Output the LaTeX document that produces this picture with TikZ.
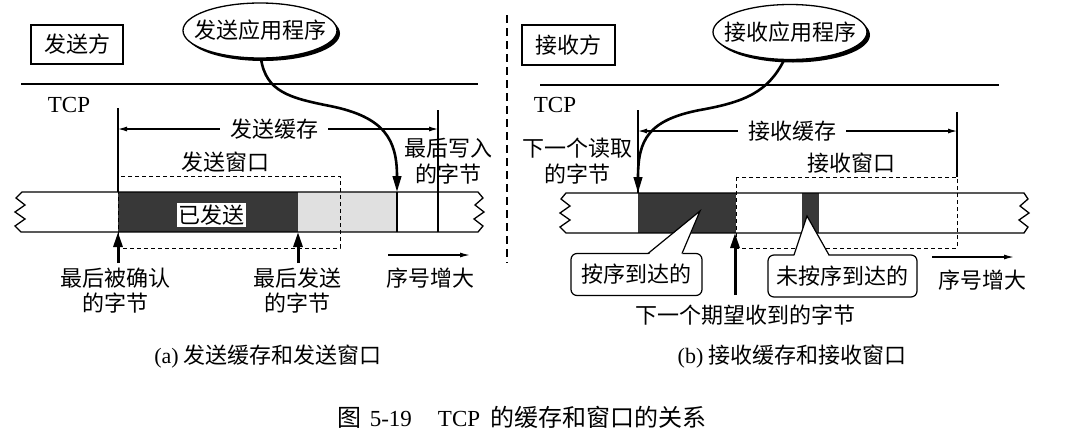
\documentclass[tikz,border=0pt]{standalone}
\usepackage{fontspec}
\setmainfont{Noto Sans CJK SC}
\newfontfamily\lat{Liberation Serif}
\usetikzlibrary{arrows.meta,shapes.geometric}
\begin{document}
\begin{tikzpicture}[x=1pt,y=-1pt,
  every node/.style={font=\fontsize{22}{26}\selectfont, inner sep=0pt},
  rule/.style={line width=1.3pt},
  bigarrow/.style={line width=3pt, -{Triangle[length=15pt,width=9pt]}},
  curvearrow/.style={line width=2.6pt, -{Triangle[length=16pt,width=8.5pt]}},
  dimline/.style={line width=1.1pt, {Latex[length=9pt,width=5pt]}-{Latex[length=9pt,width=5pt]}},
  seqarrow/.style={line width=1.3pt, -{Latex[length=10pt,width=5pt]}},
  win/.style={line width=1pt, dash pattern=on 4pt off 3pt},
  sidebox/.style={draw, line width=1.8pt, minimum width=92pt, minimum height=39pt},
  appell/.style={draw, ellipse, fill=white, line width=1.3pt, minimum width=154pt, minimum height=55pt},
  appshadow/.style={ellipse, fill=black, minimum width=154pt, minimum height=55pt},
  callout/.style={draw, rounded corners=6pt, fill=white, line width=1.2pt, minimum height=42pt},
  darkfill/.style={fill=black!78},
  lightfill/.style={fill=black!12},
  twoline/.style={align=center},
  latin/.style={font=\lat\fontsize{23}{27}\selectfont},
  buflabel/.style={fill=white, inner xsep=10pt, inner ysep=2pt},
]
\useasboundingbox (0,0) rectangle (1079,437);

% ================= left: sender =================
\node[sidebox] (sndside) at (77,44.5) {发送方};
\node[appshadow] (sndshadow) at (263,33.5) {};
\node[appell] (sndapp) at (260,30.5) {};
\node (sndapptext) at (sndapp) {发送应用程序};
\draw[rule] (21,84) -- (478,84);
\node[latin] (tcpL) at (69,105) {TCP};

% bar fills
\fill[darkfill] (118,192) rectangle (298,232);
\fill[lightfill] (298,192) rectangle (397,232);
% bar outline with broken ends
\draw[rule] (478,192) -- (22,192) -- (16,198) -- (25,205) -- (15,212) -- (25,219) -- (15,226) -- (21,232)
  -- (478,232) -- (483,226) -- (474,219) -- (484,212) -- (475,205) -- (483,198) -- cycle;
\draw[rule] (397,192) -- (397,232);

% buffer dimension
\coordinate (sbL) at (118,129);
\coordinate (sbR) at (438,129);
\draw[rule] (118,108) -- (118,192);
\draw[rule] (438,110) -- (438,232);
\draw[dimline] (sbL) -- (sbR);
\node[buflabel] (sndbuf) at (274,129) {发送缓存};

% window
\node (sndwinlabel) at (225,162) {发送窗口};
\draw[win] (118,176) rectangle (340,248);
\node[fill=white, inner sep=1.5pt] (sent) at (211,215) {已发送};

\node[twoline] (lastwrite) at (448,161.5) {最后写入\\的字节};

% write curve
\coordinate (writept) at (397,192);
\draw[curvearrow] (sndapp.272) .. controls (266,92) and (290,98) .. (330,106)
  .. controls (385,117) and (397,140) .. (writept);

% pointers below
\coordinate (ackB) at (118,263);
\coordinate (ackT) at (118,232);
\coordinate (sentB) at (298,263);
\coordinate (sentT) at (298,232);
\draw[bigarrow] (ackB) -- (ackT);
\draw[bigarrow] (sentB) -- (sentT);
\node[twoline, font=\fontsize{22}{25}\selectfont] (lastack) at (115,290.5) {最后被确认\\的字节};
\node[twoline, font=\fontsize{22}{25}\selectfont] (lastsent) at (297,290.5) {最后发送\\的字节};

\coordinate (seqLa) at (388,255);
\coordinate (seqLb) at (470,255);
\draw[seqarrow] (seqLa) -- (seqLb);
\node (seqL) at (430,278) {序号增大};

% separator
\draw[line width=1.8pt, dash pattern=on 8pt off 5pt] (507,15) -- (507,263);

% ================= right: receiver =================
\node[sidebox, minimum width=93pt, minimum height=40pt] (rcvside) at (568.5,45) {接收方};
\node[appshadow] (rcvshadow) at (793,35) {};
\node[appell] (rcvapp) at (790,32) {};
\node (rcvapptext) at (rcvapp) {接收应用程序};
\draw[rule] (540,85) -- (999,85);
\node[latin] (tcpR) at (555,105) {TCP};

\fill[darkfill] (638,193) rectangle (736,233);
\fill[darkfill] (802,193) rectangle (819,233);
\draw[rule] (1024,193) -- (566,193) -- (561,199) -- (570,206) -- (560,213) -- (570,220) -- (560,227) -- (566,233)
  -- (1024,233) -- (1028,227) -- (1019,220) -- (1029,213) -- (1020,206) -- (1028,199) -- cycle;

\coordinate (rbL) at (638,131);
\coordinate (rbR) at (957,131);
\draw[rule] (638,110) -- (638,193);
\draw[rule] (957,112) -- (957,177);
\draw[dimline] (rbL) -- (rbR);
\node[buflabel] (rcvbuf) at (792,131) {接收缓存};

\node (rcvwinlabel) at (851,163) {接收窗口};
\draw[win] (736,177) rectangle (957,248);

\node[twoline] (nextread) at (577,161.5) {下一个读取\\的字节};

\coordinate (readpt) at (638,193);
\draw[curvearrow] (rcvapp.258) .. controls (768,92) and (745,102) .. (700,110)
  .. controls (648,120) and (638,140) .. (readpt);

% expected pointer
\coordinate (expB) at (735,295);
\coordinate (expT) at (735,233);
\draw[bigarrow] (expB) -- (expT);
\node (expected) at (745,315) {下一个期望收到的字节};

% callouts
\node[callout, minimum width=131pt] (inorder) at (636.5,274.5) {按序到达的};
\coordinate (io1) at (648,253.5);
\coordinate (io2) at (682,253.5);
\coordinate (iotip) at (700,211);
\fill[white] (648,255) -- (iotip) -- (682,255) -- cycle;
\draw[line width=1.2pt] (io1) -- (iotip) -- (io2);

\node[callout, minimum width=149pt] (outorder) at (842.5,276) {未按序到达的};
\coordinate (oo1) at (794,255);
\coordinate (oo2) at (829,255);
\coordinate (ootip) at (807,216);
\fill[white] (794,256.5) -- (ootip) -- (829,256.5) -- cycle;
\draw[line width=1.2pt] (oo1) -- (ootip) -- (oo2);

\coordinate (seqRa) at (932,257);
\coordinate (seqRb) at (1014,257);
\draw[seqarrow] (seqRa) -- (seqRb);
\node (seqR) at (982,280) {序号增大};

% ================= captions =================
\node (capa) at (268,357) {{\lat (a)} 发送缓存和发送窗口};
\node (capb) at (792,357) {{\lat (b)} 接收缓存和接收窗口};
\node (title) at (522,417) {{\fontsize{24}{28}\selectfont 图}\hspace{8pt}{\lat\fontsize{23}{27}\selectfont 5-19}\hspace{26pt}{\lat\fontsize{23}{27}\selectfont TCP}\hspace{10pt}{\fontsize{24}{28}\selectfont 的缓存和窗口的关系}};
\end{tikzpicture}
\end{document}
